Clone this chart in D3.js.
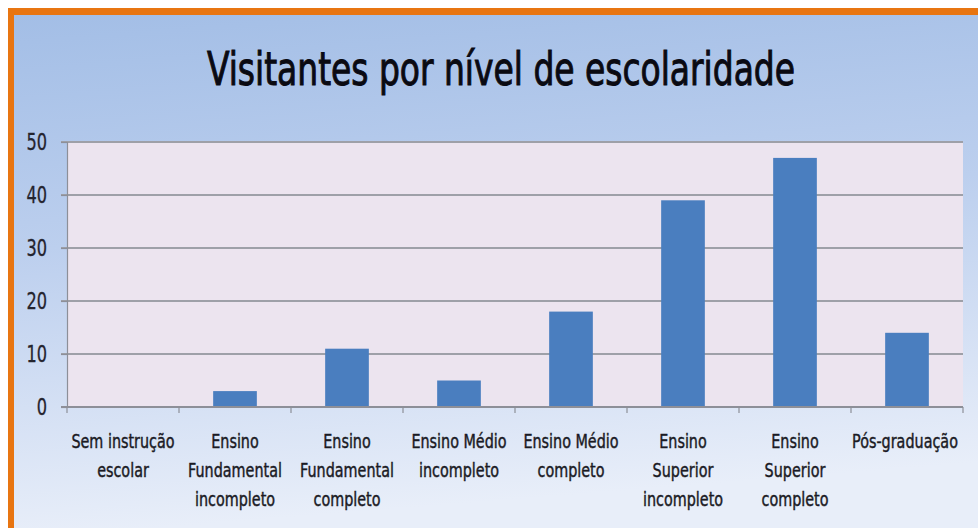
<!DOCTYPE html>
<html>
<head>
<meta charset="utf-8">
<script src="https://cdn.jsdelivr.net/npm/d3@7"></script>
<style>
  html, body { margin: 0; padding: 0; background: #ffffff; }
  svg { display: block; }
</style>
</head>
<body>
<div id="chart"></div>
<script>
const title = "Visitantes por nível de escolaridade";

const categories = [
    ["Sem instrução", "escolar"],
    ["Ensino", "Fundamental", "incompleto"],
    ["Ensino", "Fundamental", "completo"],
    ["Ensino Médio", "incompleto"],
    ["Ensino Médio", "completo"],
    ["Ensino", "Superior", "incompleto"],
    ["Ensino", "Superior", "completo"],
    ["Pós-graduação"]
];

const values = [0, 3, 11, 5, 18, 39, 47, 14];

const yTicks = [0, 10, 20, 30, 40, 50];

const width = 978;
const height = 528;

const marginTop = 142;
const marginRight = 15;
const marginBottom = 121;
const marginLeft = 67;

const font = "'DejaVu Sans Condensed', 'DejaVu Sans', sans-serif";

// narrow the text a bit, the original uses a condensed face
function squeeze(sel, factor) {
    sel.each(function () {
        const len = this.getComputedTextLength();
        d3.select(this)
            .attr("textLength", len * factor)
            .attr("lengthAdjust", "spacingAndGlyphs");
    });
}

const svg = d3.select("#chart").append("svg")
    .attr("width", width)
    .attr("height", height);

// background gradient
const defs = svg.append("defs");
const grad = defs.append("linearGradient")
    .attr("id", "bg")
    .attr("x1", 0).attr("y1", 0)
    .attr("x2", 0.15).attr("y2", 1);
grad.append("stop").attr("offset", "0%").attr("stop-color", "#a3bee6");
grad.append("stop").attr("offset", "45%").attr("stop-color", "#bccfee");
grad.append("stop").attr("offset", "100%").attr("stop-color", "#e8eef9");

svg.append("rect")
    .attr("x", 0).attr("y", 0)
    .attr("width", width).attr("height", height)
    .attr("fill", "#ffffff");

svg.append("rect")
    .attr("x", 14).attr("y", 15)
    .attr("width", width - 14).attr("height", height - 15)
    .attr("fill", "url(#bg)");

// orange frame (top and left)
svg.append("rect")
    .attr("x", 8).attr("y", 8)
    .attr("width", width - 8).attr("height", 7)
    .attr("fill", "#e87511");
svg.append("rect")
    .attr("x", 8).attr("y", 8)
    .attr("width", 6).attr("height", height - 8)
    .attr("fill", "#e87511");

// scales
const x = d3.scaleBand()
    .domain(d3.range(categories.length))
    .range([marginLeft, width - marginRight])
    .paddingInner(0.61)
    .paddingOuter(0.305);

const xOuter = d3.scaleBand()
    .domain(d3.range(categories.length))
    .range([marginLeft, width - marginRight]);

const y = d3.scaleLinear()
    .domain([0, 50])
    .range([height - marginBottom, marginTop]);

// plot area
svg.append("rect")
    .attr("x", marginLeft)
    .attr("y", marginTop)
    .attr("width", width - marginLeft - marginRight)
    .attr("height", height - marginTop - marginBottom)
    .attr("fill", "#ece4ef");

// gridlines
svg.append("g")
    .selectAll("line")
    .data(yTicks.filter(d => d > 0))
    .join("line")
    .attr("x1", marginLeft - 6)
    .attr("x2", width - marginRight)
    .attr("y1", d => y(d))
    .attr("y2", d => y(d))
    .attr("stroke", "#9ea0a8")
    .attr("stroke-width", 2);

// bars
svg.append("g")
    .selectAll("rect")
    .data(values)
    .join("rect")
    .attr("x", (d, i) => x(i))
    .attr("y", d => y(d))
    .attr("width", x.bandwidth())
    .attr("height", d => y(0) - y(d))
    .attr("fill", "#4a7ebf");

// y axis
const gy = svg.append("g")
    .attr("transform", `translate(${marginLeft},0)`)
    .call(d3.axisLeft(y).tickValues(yTicks).tickSize(6).tickPadding(14));
gy.select(".domain").attr("stroke", "#8d8f98").attr("stroke-width", 1.2);
gy.selectAll(".tick line").attr("stroke", "#8d8f98").attr("stroke-width", 1.2);
gy.selectAll(".tick text")
    .attr("fill", "#24242e")
    .attr("stroke", "#24242e")
    .attr("stroke-width", 0.3)
    .style("font-family", font)
    .style("font-size", "23px")
    .call(squeeze, 0.78);

// x axis
const gx = svg.append("g")
    .attr("transform", `translate(0,${y(0)})`);
gx.append("line")
    .attr("x1", marginLeft - 6)
    .attr("x2", width - marginRight)
    .attr("stroke", "#8d8f98")
    .attr("stroke-width", 2);
gx.selectAll(".tk")
    .data(d3.range(categories.length + 1))
    .join("line")
    .attr("class", "tk")
    .attr("x1", i => i < categories.length ? xOuter(i) : xOuter(i - 1) + xOuter.bandwidth())
    .attr("x2", i => i < categories.length ? xOuter(i) : xOuter(i - 1) + xOuter.bandwidth())
    .attr("y1", 0)
    .attr("y2", 6)
    .attr("stroke", "#8d8f98")
    .attr("stroke-width", 1.2);

const lines = categories.flatMap((lbl, i) => lbl.map((t, j) => ({ t, i, j })));
gx.selectAll(".lbl")
    .data(lines)
    .join("text")
    .attr("class", "lbl")
    .attr("text-anchor", "middle")
    .attr("x", d => xOuter(d.i) + xOuter.bandwidth() / 2 - (d.i === categories.length - 1 ? 2 : 0))
    .attr("y", d => 41 + d.j * 29)
    .attr("fill", "#1a1a24")
    .attr("stroke", "#1a1a24")
    .attr("stroke-width", 0.4)
    .style("font-family", font)
    .style("font-size", "19px")
    .text(d => d.t)
    .call(squeeze, 0.84);

// title
svg.append("text")
    .attr("x", 501)
    .attr("y", 85)
    .attr("text-anchor", "middle")
    .attr("fill", "#0a0a12")
    .attr("stroke", "#0a0a12")
    .attr("stroke-width", 1)
    .style("font-family", font)
    .style("font-size", "47px")
    .attr("textLength", 588)
    .attr("lengthAdjust", "spacingAndGlyphs")
    .text(title);
</script>
</body>
</html>
